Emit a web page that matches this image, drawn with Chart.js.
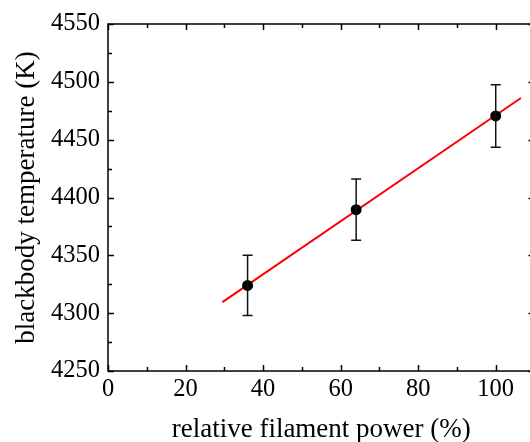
<!DOCTYPE html>
<html>
<head>
<meta charset="utf-8">
<script src="https://cdn.jsdelivr.net/npm/chart.js@4/dist/chart.umd.min.js"></script>
<style>
  html, body { margin: 0; padding: 0; background: #fff; overflow: hidden; }
  #wrap { width: 530px; height: 442px; overflow: hidden; }
  #tempChart { display: block; }
</style>
</head>
<body>
<div id="wrap">
  <canvas id="tempChart" width="540" height="450"></canvas>
</div>
<script>
// Measured blackbody temperature vs filament power
const power = [36, 64, 100];
const temperature = [4324, 4389.5, 4470.5];
const tempError = [26, 26.5, 27];

// Linear fit, drawn between its two end points
const fitPower = [29.5, 106.5];
const fitTemp = [4309.5, 4486];

// Axis ticks
const xTicks = [0, 20, 40, 60, 80, 100];
const yTicks = [4250, 4300, 4350, 4400, 4450, 4500, 4550];

const FONT = '"Liberation Serif", "Times New Roman", serif';

// Frame on all four sides with inward tick marks, plus the error bars
const frameAndErrors = {
    id: 'frameAndErrors',
    afterDatasetsDraw(chart) {
        const ctx = chart.ctx;
        const x = chart.scales.x;
        const y = chart.scales.y;
        const a = chart.chartArea;

        ctx.save();
        ctx.strokeStyle = '#000';
        ctx.lineWidth = 1.5;
        ctx.strokeRect(a.left, a.top, a.right - a.left, a.bottom - a.top);

        // x ticks: major every 20, minor every 10
        for (let v = 0; v <= 110; v += 10) {
            const px = Math.round(x.getPixelForValue(v)) + 0.5;
            const len = v % 20 === 0 ? 6 : 4;
            ctx.beginPath();
            ctx.moveTo(px, a.bottom); ctx.lineTo(px, a.bottom - len);
            ctx.moveTo(px, a.top); ctx.lineTo(px, a.top + len);
            ctx.stroke();
        }
        // y ticks: major every 50, minor every 25
        for (let v = 4250; v <= 4550; v += 25) {
            const py = Math.round(y.getPixelForValue(v)) + 0.5;
            const len = v % 50 === 0 ? 6 : 4;
            ctx.beginPath();
            ctx.moveTo(a.left, py); ctx.lineTo(a.left + len, py);
            ctx.moveTo(a.right, py); ctx.lineTo(a.right - len, py);
            ctx.stroke();
        }

        // error bars
        ctx.strokeStyle = '#111';
        ctx.lineWidth = 1.5;
        power.forEach((p, i) => {
            const px = x.getPixelForValue(p);
            const top = y.getPixelForValue(temperature[i] + tempError[i]);
            const bot = y.getPixelForValue(temperature[i] - tempError[i]);
            ctx.beginPath();
            ctx.moveTo(px, top); ctx.lineTo(px, bot);
            ctx.moveTo(px - 5, top); ctx.lineTo(px + 5, top);
            ctx.moveTo(px - 5, bot); ctx.lineTo(px + 5, bot);
            ctx.stroke();
        });
        ctx.restore();
    }
};

const ctx = document.getElementById('tempChart').getContext('2d');
const tempChart = new Chart(ctx, {
    type: 'scatter',
    data: {
        datasets: [
            {
                label: 'fit',
                data: fitPower.map((p, i) => ({ x: p, y: fitTemp[i] })),
                showLine: true,
                borderColor: '#ff0000',
                borderWidth: 2,
                pointRadius: 0,
                order: 2
            },
            {
                label: 'measured',
                data: power.map((p, i) => ({ x: p, y: temperature[i] })),
                backgroundColor: '#000',
                borderColor: '#000',
                pointRadius: 5.5,
                pointBorderWidth: 0,
                order: 1
            }
        ]
    },
    options: {
        responsive: false,
        animation: false,
        clip: false,
        layout: { padding: { top: 24, right: 4.4, left: 0, bottom: 0 } },
        plugins: {
            legend: { display: false },
            tooltip: { enabled: false }
        },
        scales: {
            x: {
                type: 'linear',
                min: 0,
                max: 110,
                afterFit: (scale) => { scale.height = 79; },
                afterBuildTicks: (scale) => { scale.ticks = xTicks.map(v => ({ value: v })); },
                grid: { display: false, drawTicks: false },
                border: { display: false },
                ticks: {
                    color: '#000',
                    padding: 4,
                    maxRotation: 0,
                    callback: (v) => String(v),
                    font: { family: FONT, size: 24.5 }
                },
                title: {
                    display: true,
                    text: 'relative filament power (%)',
                    color: '#000',
                    font: { family: FONT, size: 27 },
                    padding: { top: 0, bottom: 4 }
                }
            },
            y: {
                type: 'linear',
                min: 4250,
                max: 4550,
                afterFit: (scale) => { scale.width = 108; },
                afterBuildTicks: (scale) => { scale.ticks = yTicks.map(v => ({ value: v })); },
                grid: { display: false, drawTicks: false },
                border: { display: false },
                ticks: {
                    color: '#000',
                    padding: 8,
                    callback: (v) => String(v),
                    font: { family: FONT, size: 24.5 }
                },
                title: {
                    display: true,
                    text: 'blackbody temperature (K)',
                    color: '#000',
                    font: { family: FONT, size: 27 },
                    padding: { top: 11, bottom: 0 }
                }
            }
        }
    },
    plugins: [frameAndErrors]
});
</script>
</body>
</html>
